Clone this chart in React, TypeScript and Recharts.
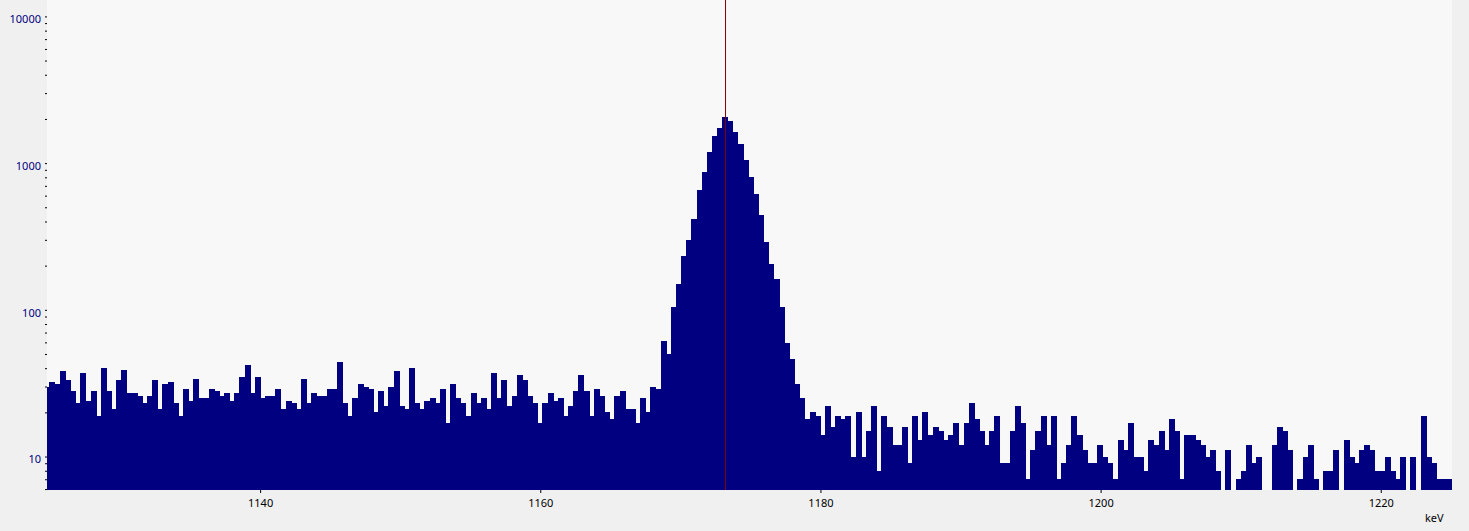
import { BarChart, Bar, XAxis, YAxis, CartesianGrid, ReferenceLine } from 'recharts'

// energy calibration of the channels (keV = offset + gain * channel)
const calOffset = 1124.78
const calGain = 0.3666

// counts per channel, left to right
const lowBackground = [
  30, 32, 31, 38, 33, 28, 23, 37, 24, 28, 19, 40, 28, 21, 33, 39, 27, 27, 26, 23, 26, 33, 21, 31, 32,
  23, 19, 29, 24, 34, 25, 25, 29, 28, 26, 27, 24, 27, 35, 42, 27, 35, 25, 26, 26, 29, 21, 24, 23,
  21, 34, 23, 27, 26, 26, 29, 29, 44, 23, 19, 25, 31, 30, 29, 20, 28, 22, 30, 38, 22, 21, 40, 23,
  21, 24, 25, 23, 29, 17, 31, 25, 23, 19, 27, 23, 25, 21, 37, 25, 33, 22, 26, 36, 33, 26, 23, 17, 23,
  27, 24, 25, 19, 22, 28, 36, 28, 19, 29, 26, 20, 18, 26, 28, 21, 21, 17, 25, 20, 30, 29, 61, 50,
]
const peak = [
  104, 149, 234, 297, 419, 651, 863, 1199, 1542, 1748, 2046, 1951, 1642, 1360, 1042, 798, 620, 446,
  292, 204, 163, 104, 59, 46,
]
const highBackground = [
  31, 25, 18, 20, 19, 14, 22, 16, 19, 18, 19, 10, 20, 10, 15, 22, 8, 19, 16, 12, 12, 16, 9,
  19, 13, 20, 14, 16, 15, 13, 14, 17, 12, 17, 23, 18, 15, 12, 15, 19, 9, 9, 15, 22, 17, 7, 11,
  15, 19, 12, 19, 7, 9, 12, 19, 14, 11, 9, 9, 12, 10, 9, 7, 13, 11, 17, 10, 10, 8, 13, 12, 15,
  11, 18, 15, 7, 14, 14, 13, 12, 10, 11, 8, null, 11, null, 7, 8, 12, 9, 10, null, null, 12, 16, 15,
  11, null, 7, 10, 12, 7, null, 8, 8, 11, null, 13, 10, 9, 11, 12, 11, 8, 8, 10, 8, 7, 10, null,
  10, null, 19, 10, 9, 7, 7, 7,
]

const counts: (number | null)[] = [...lowBackground, ...peak, ...highBackground]

const xTicks = [1140, 1160, 1180, 1200, 1220]
const yMajor = [10, 100, 1000, 10000]
const yTicks = [
  6, 7, 8, 9, 10, 20, 30, 40, 50, 60, 70, 80, 90, 100, 200, 300, 400, 500, 600, 700, 800, 900,
  1000, 2000, 3000, 4000, 5000, 6000, 7000, 8000, 9000, 10000,
]
const peakMarker = 1173.19

const rows = counts.map((c, i) => ({ e: calOffset + calGain * i, c }))

const YTick = (props: any) => {
  const { x, y, payload } = props
  if (!yMajor.includes(payload.value)) return <g />
  return (
    <text x={x} y={y + 2.5} dy="0.355em" textAnchor="end" fill="#000080" fontSize={11}>
      {payload.value}
    </text>
  )
}

export default function App() {
  return (
    <div
      style={{
        position: 'absolute',
        left: 0,
        top: 0,
        width: 1469,
        height: 531,
        background: '#f0f0f0',
        fontFamily: '"Noto Sans", sans-serif',
      }}
    >
      <BarChart
        width={1469}
        height={531}
        data={rows}
        margin={{ top: 0, right: 17, bottom: 0, left: 0 }}
        barCategoryGap={0}
        barGap={0}
      >
        <CartesianGrid horizontal={false} vertical={false} fill="#f8f8f8" stroke="none" />
        <XAxis
          dataKey="e"
          type="number"
          domain={[1124.75, 1225.05]}
          allowDataOverflow
          ticks={xTicks}
          interval={0}
          height={41}
          axisLine={false}
          stroke="#000"
          tickSize={3}
          tickMargin={6}
          tick={{ fill: '#000', fontSize: 11 }}
        />
        <YAxis
          scale="log"
          type="number"
          domain={[5.96, 13036]}
          allowDataOverflow
          ticks={yTicks}
          interval={0}
          width={47}
          axisLine={false}
          stroke="#000"
          tickSize={2}
          tickMargin={4}
          tick={<YTick />}
        />
        <Bar
          dataKey="c"
          fill="#000080"
          stroke="#000080"
          strokeWidth={1}
          shapeRendering="crispEdges"
          isAnimationActive={false}
        />
        <ReferenceLine x={peakMarker} stroke="#800000" strokeWidth={1} />
      </BarChart>
      <div style={{ position: 'absolute', left: 1425, top: 511, fontSize: 11, lineHeight: '14px', color: '#000' }}>
        keV
      </div>
    </div>
  )
}
